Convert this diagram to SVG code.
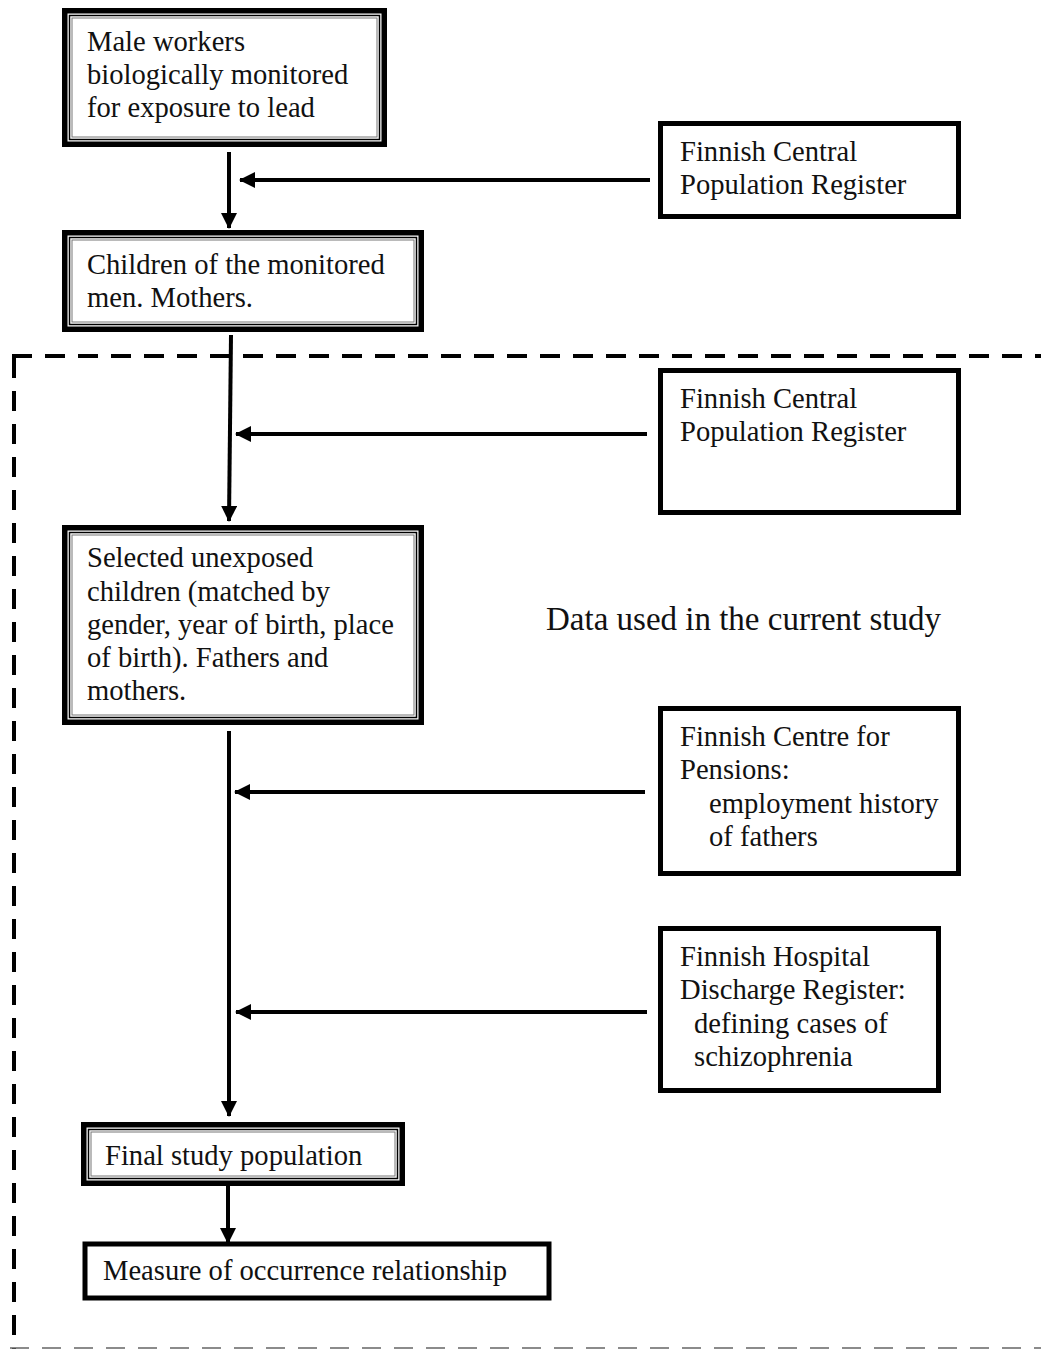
<svg xmlns="http://www.w3.org/2000/svg" width="1041" height="1349" viewBox="0 0 1041 1349">
<defs>
<marker id="ah" markerUnits="userSpaceOnUse" markerWidth="16" markerHeight="16" viewBox="0 0 16 16" refX="15" refY="8" orient="auto">
<path d="M0,0 L16,8 L0,16 Z" fill="#000"/>
</marker>
<style>
text{font-family:'Liberation Serif','DejaVu Serif',serif;font-size:28.6px;fill:#111}
.big{font-size:33px}
.outer{fill:#fff;stroke:#000;stroke-width:5.5}
.in1{fill:none;stroke:#000;stroke-width:1.5}
.in2{fill:none;stroke:#777;stroke-width:1}
.single{fill:#fff;stroke:#000;stroke-width:5}
.conn{stroke:#000;stroke-width:4;fill:none}
.dash{stroke:#000;stroke-width:4;stroke-dasharray:20 13;fill:none}
</style>
</defs>
<rect width="1041" height="1349" fill="#fff"/>
<g id="boundary">
<line class="dash" x1="12" y1="356" x2="1041" y2="356"/>
<line class="dash" x1="14" y1="358" x2="14" y2="1349"/>
<line x1="10" y1="1348" x2="1041" y2="1348" stroke="#666" stroke-width="1.5" stroke-dasharray="19 13"/>
</g>
<g id="connectors">
<line class="conn" x1="229" y1="152" x2="229" y2="228" marker-end="url(#ah)"/>
<line class="conn" x1="650" y1="180" x2="240" y2="180" marker-end="url(#ah)"/>
<line class="conn" x1="231" y1="335" x2="229" y2="521" marker-end="url(#ah)"/>
<line class="conn" x1="647" y1="434" x2="236" y2="434" marker-end="url(#ah)"/>
<line class="conn" x1="229" y1="731" x2="229" y2="1116" marker-end="url(#ah)"/>
<line class="conn" x1="645" y1="792" x2="235" y2="792" marker-end="url(#ah)"/>
<line class="conn" x1="647" y1="1012" x2="236" y2="1012" marker-end="url(#ah)"/>
<line class="conn" x1="228" y1="1186" x2="228" y2="1243" marker-end="url(#ah)"/>
</g>
<g id="n1">
<rect class="outer" x="64.75" y="10.75" width="319.5" height="133.5"/>
<rect class="in1" x="69.5" y="15.5" width="310" height="124"/>
<rect class="in2" x="72" y="18" width="305" height="119"/>
<text x="87" y="51">Male workers</text>
<text x="87" y="84">biologically monitored</text>
<text x="87" y="117">for exposure to lead</text>
</g>
<g id="n2">
<rect class="single" x="660.5" y="123.5" width="298" height="93"/>
<text x="680" y="161">Finnish Central</text>
<text x="680" y="194">Population Register</text>
</g>
<g id="n3">
<rect class="outer" x="64.75" y="232.75" width="356.5" height="96.5"/>
<rect class="in1" x="69.5" y="237.5" width="347" height="87"/>
<rect class="in2" x="72" y="240" width="342" height="82"/>
<text x="87" y="274">Children of the monitored</text>
<text x="87" y="307">men. Mothers.</text>
</g>
<g id="n4">
<rect class="single" x="660.5" y="370.5" width="298" height="142"/>
<text x="680" y="408">Finnish Central</text>
<text x="680" y="441">Population Register</text>
</g>
<g id="n5">
<rect class="outer" x="64.75" y="527.75" width="356.5" height="194.5"/>
<rect class="in1" x="69.5" y="532.5" width="347" height="185"/>
<rect class="in2" x="72" y="535" width="342" height="180"/>
<text x="87" y="567">Selected unexposed</text>
<text x="87" y="601">children (matched by</text>
<text x="87" y="634">gender, year of birth, place</text>
<text x="87" y="667">of birth). Fathers and</text>
<text x="87" y="700">mothers.</text>
</g>
<g id="label">
<text class="big" x="546" y="630">Data used in the current study</text>
</g>
<g id="n6">
<rect class="single" x="660.5" y="708.5" width="298" height="165"/>
<text x="680" y="746">Finnish Centre for</text>
<text x="680" y="779">Pensions:</text>
<text x="709" y="813">employment history</text>
<text x="709" y="846">of fathers</text>
</g>
<g id="n7">
<rect class="single" x="660.5" y="928.5" width="278" height="162"/>
<text x="680" y="966">Finnish Hospital</text>
<text x="680" y="999">Discharge Register:</text>
<text x="694" y="1033">defining cases of</text>
<text x="694" y="1066">schizophrenia</text>
</g>
<g id="n8">
<rect class="outer" x="83.75" y="1124.75" width="318.5" height="58.5"/>
<rect class="in1" x="88.5" y="1129.5" width="309" height="49"/>
<rect class="in2" x="91" y="1132" width="304" height="44"/>
<text x="105" y="1165">Final study population</text>
</g>
<g id="n9">
<rect class="single" x="85" y="1244" width="464" height="54" stroke-width="4.5"/>
<text x="103" y="1280">Measure of occurrence relationship</text>
</g>
</svg>
